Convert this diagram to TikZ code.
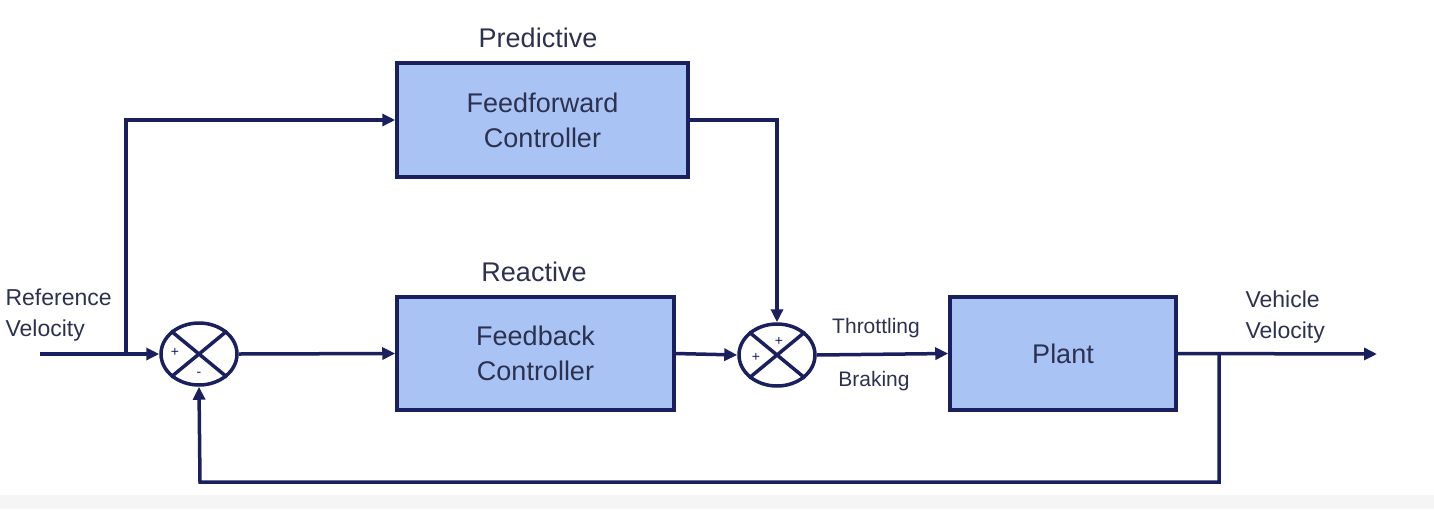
\documentclass[tikz,border=0pt]{standalone}
\usepackage{fontspec}
\setmainfont{Liberation Sans}
\usetikzlibrary{arrows.meta,shapes.geometric}
\definecolor{navy}{HTML}{1A1F5E}
\definecolor{boxfill}{HTML}{A9C4F4}
\definecolor{txt}{HTML}{2C3150}
\tikzset{
  blk/.style={draw=navy,line width=3.5pt,fill=boxfill,inner sep=0pt,text=txt,align=center,font=\fontsize{27}{35}\selectfont},
  sumj/.style={draw=navy,line width=3.5pt,ellipse,minimum width=76pt,minimum height=62pt,inner sep=0pt},
  lbl/.style={text=txt,font=\fontsize{27}{33}\selectfont},
  sml/.style={text=txt,font=\fontsize{23}{31}\selectfont,align=left},
  tiny/.style={text=txt,font=\fontsize{21}{25}\selectfont},
  sgn/.style={text=navy,font=\fontsize{14}{14}\selectfont,inner sep=0pt},
  wire/.style={draw=navy,line width=3.5pt},
  arr/.style={wire,-{Triangle[length=13pt,width=12pt]}}
}
\begin{document}
\begin{tikzpicture}[x=1pt,y=-1pt]
\useasboundingbox (0,0) rectangle (1434,509);
\fill[black!4] (0,495) rectangle (1434,509);
% blocks
\node[blk,minimum width=291pt,minimum height=114pt] (ff) at (542.5,120) {Feedforward\\Controller};
\node[blk,minimum width=277pt,minimum height=113pt] (fb) at (535.5,353.5) {Feedback\\Controller};
\node[blk,minimum width=226pt,minimum height=113pt] (pl) at (1063,353.5) {Plant};
\node[lbl] (pred) at (538,38) {Predictive};
\node[lbl] (react) at (534,272) {Reactive};
% summing junctions
\node[sumj] (s1) at (199,354) {};
\draw[navy,line width=3.5pt] (s1.north west) -- (s1.south east) (s1.north east) -- (s1.south west);
\node[sgn] (s1p) at (175,352) {+};
\node[sgn] (s1m) at (199,374) {-};
\node[sumj] (s2) at (777,355) {};
\draw[navy,line width=3.5pt] (s2.north west) -- (s2.south east) (s2.north east) -- (s2.south west);
\node[sgn] (s2a) at (756,357) {+};
\node[sgn] (s2b) at (779,341) {+};
% coordinates
\coordinate (in) at (40,354);
\coordinate (br1) at (126,354);
\coordinate (out) at (1377,354);
\coordinate (br2) at (1219,354);
% texts
\node[sml,anchor=west] (refv) at (2,315) {Reference\\Velocity};
\node[sml,anchor=west] (vehv) at (1242,317) {Vehicle\\Velocity};
\node[tiny] (thr) at (876,328) {Throttling};
\node[tiny] (brk) at (874,381) {Braking};
% connectors
\draw[arr] (in) -- (s1.west);
\draw[arr] (br1) |- (ff.west);
\draw[arr] (s1.east) -- (fb.west);
\draw[arr] (fb.east) -- (s2.west);
\draw[arr] (ff.east) -| (s2.north);
\draw[arr] (s2.east) -- (pl.west);
\draw[arr] (pl.east) -- (out);
\draw[arr] (br2) |- (200,482) -- (s1.south);
\end{tikzpicture}
\end{document}
